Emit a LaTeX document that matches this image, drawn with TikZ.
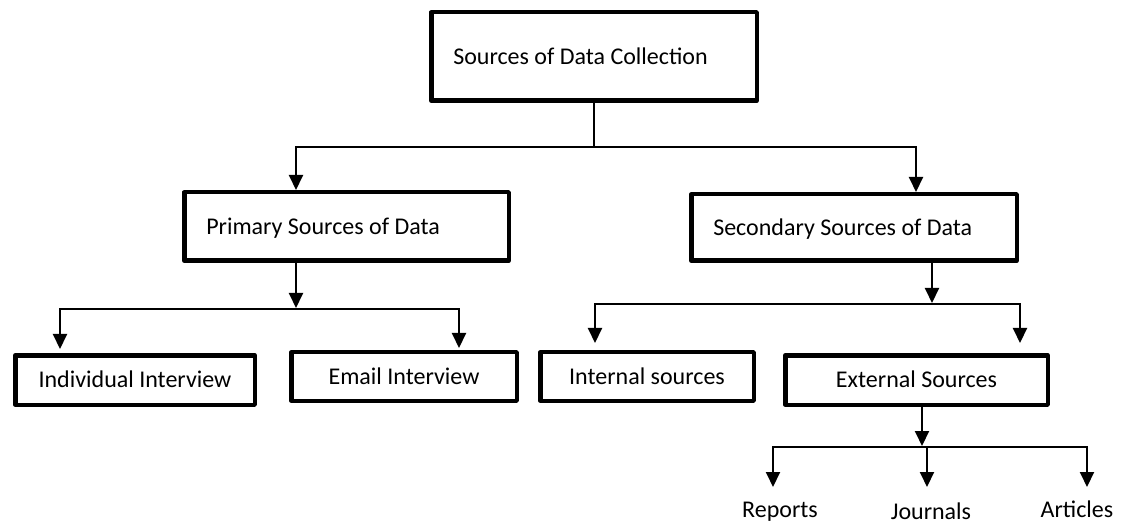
\documentclass[tikz,border=0pt]{standalone}
\usepackage{fontspec}
\setmainfont{Carlito}
\usetikzlibrary{arrows.meta}
\begin{document}
\begin{tikzpicture}[x=1pt,y=-1pt,
  box/.style={draw=black, line width=4.5pt, line join=round, fill=white,
    inner sep=0pt, text height=15.5pt, text depth=0pt,
    font=\fontsize{24}{29}\selectfont},
  leftbox/.style={box, align=flush left},
  lbl/.style={inner sep=0pt, anchor=base, font=\fontsize{24}{29}\selectfont},
  conn/.style={draw=black, line width=2pt},
  arr/.style={conn, -{Triangle[width=14pt,length=15pt]}}
]
\useasboundingbox (0,0) rectangle (1122,529);

% nodes
\node[leftbox, minimum width=325.5pt, minimum height=88.5pt, text width=281.5pt] (top) at (594,56.5) {Sources of Data Collection};
\node[leftbox, minimum width=324.5pt, minimum height=68.5pt, text width=280.5pt] (prim) at (346.5,226.5) {Primary Sources of Data};
\node[leftbox, minimum width=325.5pt, minimum height=66.5pt, text width=281.5pt] (sec) at (854,227.5) {Secondary Sources of Data};
\node[box, minimum width=239.5pt, minimum height=49.5pt] (ind) at (135,380) {Individual Interview};
\node[box, minimum width=225.5pt, minimum height=48.5pt] (email) at (404,376.5) {Email Interview};
\node[box, minimum width=213.5pt, minimum height=48.5pt] (int) at (647,376.5) {Internal sources};
\node[box, minimum width=262.5pt, minimum height=49.5pt] (ext) at (916.5,380) {External Sources};
\node[lbl] (rep) at (780,517) {Reports};
\node[lbl] (jou) at (931,519) {Journals};
\node[lbl] (art) at (1077,517) {Articles};

% junction coordinates
\coordinate (j1) at (594,147);
\coordinate (j2) at (296,309);
\coordinate (j3) at (932,304);
\coordinate (j4) at (922,447);
\coordinate (t1) at ([xshift=-50.5pt]prim.north);
\coordinate (t2) at ([xshift=62pt]sec.north);
\coordinate (t3) at ([xshift=-75pt,yshift=4pt]ind.north);
\coordinate (t4) at ([xshift=55pt,yshift=2pt]email.north);
\coordinate (t5) at ([xshift=-52pt,yshift=7pt]int.north);
\coordinate (t6) at ([xshift=103.5pt,yshift=10pt]ext.north);
\coordinate (r1) at (773,487);
\coordinate (r2) at (927,487);
\coordinate (r3) at (1087,487);

% connectors
\draw[conn] (top.south) -- (j1);
\draw[arr] (j1) -| (t1);
\draw[arr] (j1) -| (t2);

\draw[arr] (prim.south -| j2) -- ([yshift=1pt]j2);
\draw[arr] (j2) -| (t3);
\draw[arr] (j2) -| (t4);

\draw[arr] (sec.south -| j3) -- ([yshift=1pt]j3);
\draw[arr] (j3) -| (t5);
\draw[arr] (j3) -| (t6);

\draw[arr] (ext.south -| j4) -- ([yshift=1pt]j4);
\draw[arr] (j4) -| (r1);
\draw[arr] (j4 -| r2) -- (r2);
\draw[arr] (j4) -| (r3);
\end{tikzpicture}
\end{document}
